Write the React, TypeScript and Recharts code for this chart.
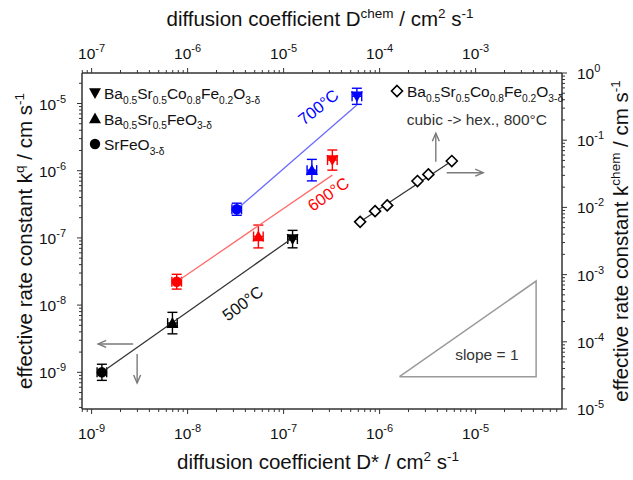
import React from 'react';
import {
  ComposedChart,
  Scatter,
  XAxis,
  YAxis,
  ErrorBar,
  ReferenceLine,
  ReferenceDot,
  Legend,
} from 'recharts';

const FONT = '"Liberation Sans", Arial, Helvetica, sans-serif';

// ---------- categories ----------
const materials = ['SrFeO3-δ', 'Ba0.5Sr0.5FeO3-δ', 'Ba0.5Sr0.5Co0.8Fe0.2O3-δ'];
const materialShapes = ['circle', 'triangle', 'triangleDown'];
const temperatures = ['500°C', '600°C', '700°C'];
const tempColors = ['#000000', '#ff0000', '#0000ff'];
const fitColors = ['#333333', '#ff6b6b', '#6b6bff'];

// ---------- series values (D* in cm2/s, kq in cm/s) ----------
const dStar500 = [1.28e-9, 6.95e-9, 1.24e-7];
const kq500 = [1.0e-9, 5.4e-9, 9.6e-8];
const kqErr500 = [0.12, 0.16, 0.13];

const dStar600 = [7.7e-9, 5.46e-8, 3.22e-7];
const kq600 = [2.23e-8, 1.05e-7, 1.44e-6];
const kqErr600 = [0.11, 0.17, 0.15];

const dStar700 = [3.25e-8, 1.97e-7, 5.8e-7];
const kq700 = [2.67e-7, 1.02e-6, 1.28e-5];
const kqErr700 = [0.09, 0.16, 0.12];

const dStarErr = [0.05, 0.05, 0.05];

// fit lines
const fit500D = [1.28e-9, 1.24e-7];
const fit500K = [1.0e-9, 1.0e-7];
const fit600D = [7.7e-9, 3.22e-7];
const fit600K = [2.23e-8, 8.6e-7];
const fit700D = [3.25e-8, 5.8e-7];
const fit700K = [2.67e-7, 9.5e-6];

// chemical diffusion (top / right axes), BSCF cubic -> hex., 800°C
const dChem800 = [6.27e-5, 8.97e-5, 1.2e-4, 2.48e-4, 3.22e-4, 5.65e-4];
const kChem800 = [6.1e-3, 8.8e-3, 1.07e-2, 2.47e-2, 3.1e-2, 4.9e-2];
const fit800D = [6.27e-5, 5.65e-4];
const fit800K = [6.1e-3, 4.9e-2];

// slope triangle (bottom / left axes)
const slopeD = [1.61e-6, 4.27e-5, 4.27e-5, 1.61e-6];
const slopeK = [8.6e-10, 8.6e-10, 2.28e-8, 8.6e-10];

// arrows
const arrowsBL = [
  { from: [2.71e-9, 2.64e-9], to: [1.17e-9, 2.64e-9] },
  { from: [2.98e-9, 1.87e-9], to: [2.98e-9, 6.93e-10] },
];
const arrowsTR = [
  { from: [3.85e-4, 4.79e-2], to: [3.85e-4, 0.127] },
  { from: [5.0e-4, 3.28e-2], to: [1.2e-3, 3.28e-2] },
];

// annotations
const annotationTexts = ['700°C', '600°C', '500°C', 'cubic -> hex., 800°C', 'slope = 1'];
const annotationD = [2.29e-7, 2.91e-7, 3.74e-8, 1.03e-5, 1.31e-5];
const annotationK = [8.9e-6, 4.5e-7, 1.07e-8, 5.7e-6, 1.81e-9];
const annotationColors = ['#0000ff', '#ff0000', '#111111', '#333333', '#333333'];
const annotationAngles = [-38, -35, -37, 0, 0];

// axes
const bottomDomain = [10 ** -9.1, 10 ** -4.1];
const topDomain = [10 ** -7.1, 10 ** -2.1];
const leftDomain = [10 ** -9.546, 10 ** -4.546];
const rightDomain = [1e-5, 1];
const bottomMajorExps = [-9, -8, -7, -6, -5];
const topMajorExps = [-7, -6, -5, -4, -3];
const leftMajorExps = [-9, -8, -7, -6, -5];
const rightMajorExps = [-5, -4, -3, -2, -1, 0];

// ---------- helpers ----------
function logTicks(domain: number[]) {
  const out: number[] = [];
  const lo = Math.floor(Math.log10(domain[0]));
  const hi = Math.ceil(Math.log10(domain[1]));
  for (let e = lo; e <= hi; e++) {
    for (let m = 1; m <= 9; m++) {
      const v = m * 10 ** e;
      if (v >= domain[0] * 0.9999 && v <= domain[1] * 1.0001) out.push(v);
    }
  }
  return out;
}

function buildSeries(d: number[], k: number[], kErr: number[]) {
  return d.map((x, i) => ({
    x,
    y: k[i],
    shape: materialShapes[i],
    material: materials[i],
    ex: [x - x / 10 ** dStarErr[i], x * 10 ** dStarErr[i] - x],
    ey: [k[i] - k[i] / 10 ** kErr[i], k[i] * 10 ** kErr[i] - k[i]],
  }));
}

function pairs(d: number[], k: number[]) {
  return d.map((x, i) => ({ x, y: k[i] }));
}

const series = [
  buildSeries(dStar500, kq500, kqErr500),
  buildSeries(dStar600, kq600, kqErr600),
  buildSeries(dStar700, kq700, kqErr700),
];
const fits = [pairs(fit500D, fit500K), pairs(fit600D, fit600K), pairs(fit700D, fit700K)];
const chemData = pairs(dChem800, kChem800).map((p) => ({ ...p, shape: 'diamond' }));
const chemFit = pairs(fit800D, fit800K);
const slopeData = pairs(slopeD, slopeK);

function Marker({ cx, cy, kind, color }: any) {
  if (cx == null || cy == null) return <g />;
  if (kind === 'circle') return <circle cx={cx} cy={cy} r={5.2} fill={color} />;
  if (kind === 'triangle') {
    const s = 6;
    return (
      <polygon
        points={`${cx},${cy - s} ${cx - s},${cy + s * 0.8} ${cx + s},${cy + s * 0.8}`}
        fill={color}
      />
    );
  }
  if (kind === 'triangleDown') {
    const s = 6;
    return (
      <polygon
        points={`${cx},${cy + s} ${cx - s},${cy - s * 0.8} ${cx + s},${cy - s * 0.8}`}
        fill={color}
      />
    );
  }
  const s = 5.5;
  return (
    <polygon
      points={`${cx},${cy - s} ${cx + s},${cy} ${cx},${cy + s} ${cx - s},${cy}`}
      fill="#ffffff"
      stroke={color}
      strokeWidth={1.6}
    />
  );
}

function Formula({ text, x, y, size }: any) {
  const tokens = text.match(/([A-Z][a-z]?)|([0-9.\-δ]+)/g) || [];
  const subSize = size * 0.66;
  const nodes: any[] = [];
  let sub = false;
  tokens.forEach((t: string, i: number) => {
    const isSub = /^[0-9.\-δ]/.test(t);
    let dy = 0;
    if (isSub && !sub) dy = 4.5;
    if (!isSub && sub) dy = -4.5;
    sub = isSub;
    nodes.push(
      <tspan key={i} dy={dy} fontSize={isSub ? subSize : size}>
        {t}
      </tspan>
    );
  });
  return (
    <text x={x} y={y} fontFamily={FONT} fontSize={size} fill="#111">
      {nodes}
    </text>
  );
}

function LegendOverlay() {
  const rows = [2, 1, 0];
  const rowY = [93, 118.5, 144];
  return (
    <svg width={633} height={480} style={{ position: 'absolute', left: 0, top: 0 }}>
      {rows.map((m, i) => (
        <g key={m}>
          <Marker cx={95} cy={rowY[i]} kind={materialShapes[m]} color="#000" />
          <Formula text={materials[m]} x={104} y={rowY[i] + 6} size={15.5} />
        </g>
      ))}
      <Marker cx={397} cy={91} kind="diamond" color="#000" />
      <Formula text={materials[2]} x={407} y={97} size={15.5} />
    </svg>
  );
}

function makeTick(side: string, majors: number[]) {
  return (props: any) => {
    const { x, y, payload } = props;
    const v = payload.value;
    const lg = Math.log10(v);
    const e = Math.round(lg);
    const isMajor = Math.abs(lg - e) < 1e-6;
    const len = isMajor ? 5 : 3;
    const showLabel = isMajor && majors.includes(e);
    const stroke = '#333';
    let line;
    let label = null;
    const lbl = (lx: number, ly: number, anchor: string) => (
      <text x={lx} y={ly} textAnchor={anchor} fontFamily={FONT} fontSize={15.5} fill="#111">
        <tspan>10</tspan>
        <tspan fontSize={11} dy={-7}>
          {String(e)}
        </tspan>
      </text>
    );
    if (side === 'bottom') {
      line = <line x1={x} y1={y} x2={x} y2={y + len} stroke={stroke} strokeWidth={1} />;
      if (showLabel) label = lbl(x, y + 30, 'middle');
    } else if (side === 'top') {
      line = <line x1={x} y1={y} x2={x} y2={y - len} stroke={stroke} strokeWidth={1} />;
      if (showLabel) label = lbl(x, y - 14, 'middle');
    } else if (side === 'left') {
      line = <line x1={x} y1={y} x2={x - len} y2={y} stroke={stroke} strokeWidth={1} />;
      if (showLabel) label = lbl(x - 16, y + 6, 'end');
    } else {
      line = <line x1={x} y1={y} x2={x + len} y2={y} stroke={stroke} strokeWidth={1} />;
      if (showLabel) label = lbl(x + 15, y + 6, 'start');
    }
    return (
      <g>
        {line}
        {label}
      </g>
    );
  };
}

const TITLE_SIZE = 20.5;
const TITLE_SUP = 13.5;

function Title({ parts, x, y, rotate }: any) {
  return (
    <text
      x={x}
      y={y}
      textAnchor="middle"
      fontFamily={FONT}
      fontSize={TITLE_SIZE}
      fill="#111"
      transform={rotate ? `rotate(${rotate} ${x} ${y})` : undefined}
    >
      {parts.map((p: any, i: number) => {
        const prevSup = i > 0 && parts[i - 1][1];
        const dy = p[1] && !prevSup ? -8 : !p[1] && prevSup ? 8 : 0;
        return (
          <tspan key={i} dy={dy} fontSize={p[1] ? TITLE_SUP : TITLE_SIZE}>
            {p[0]}
          </tspan>
        );
      })}
    </text>
  );
}

const bottomTitle = [['diffusion coefficient D* / cm', false], ['2', true], [' s', false], ['-1', true]];
const topTitle = [['diffusion coefficient D', false], ['chem', true], [' / cm', false], ['2', true], [' s', false], ['-1', true]];
const leftTitle = [['effective rate constant k', false], ['q', true], [' / cm s', false], ['-1', true]];
const rightTitle = [['effective rate constant k', false], ['chem', true], [' / cm s', false], ['-1', true]];

function Arrow(p: any) {
  const { x1, y1, x2, y2 } = p;
  if ([x1, y1, x2, y2].some((v) => v == null || isNaN(v))) return <g />;
  const dx = x2 - x1;
  const dy = y2 - y1;
  const L = Math.sqrt(dx * dx + dy * dy) || 1;
  const ux = dx / L;
  const uy = dy / L;
  const hl = 8;
  const hw = 3.5;
  const bx = x2 - ux * hl;
  const by = y2 - uy * hl;
  const stroke = '#7a7a7a';
  return (
    <g>
      <line x1={x1} y1={y1} x2={x2} y2={y2} stroke={stroke} strokeWidth={1.4} />
      <polyline
        points={`${bx - uy * hw},${by + ux * hw} ${x2},${y2} ${bx + uy * hw},${by - ux * hw}`}
        fill="none"
        stroke={stroke}
        strokeWidth={1.4}
      />
    </g>
  );
}

const empty = () => <g />;

export default function App() {
  const axisLine = { stroke: '#333', strokeWidth: 1.5 };
  return (
    <div style={{ position: 'absolute', left: 0, top: 0, width: 633, height: 480, background: '#fff' }}>
      <ComposedChart width={633} height={480} margin={{ top: 0, right: 0, bottom: 0, left: 0 }}>
        <XAxis
          xAxisId="bottom"
          orientation="bottom"
          dataKey="x"
          type="number"
          scale="log"
          domain={bottomDomain}
          allowDataOverflow
          ticks={logTicks(bottomDomain)}
          interval={0}
          tickSize={0}
          tickMargin={0}
          tickLine={false}
          axisLine={axisLine}
          height={71}
          tick={makeTick('bottom', bottomMajorExps)}
          label={{
            content: (p: any) => {
              const vb = p.viewBox || { x: 82, y: 409, width: 480, height: 71 };
              return <Title parts={bottomTitle} x={vb.x + vb.width / 2 - 4} y={vb.y + 60} />;
            },
          }}
        />
        <XAxis
          xAxisId="top"
          orientation="top"
          dataKey="x"
          type="number"
          scale="log"
          domain={topDomain}
          allowDataOverflow
          ticks={logTicks(topDomain)}
          interval={0}
          tickSize={0}
          tickMargin={0}
          tickLine={false}
          axisLine={axisLine}
          height={73}
          tick={makeTick('top', topMajorExps)}
          label={{
            content: (p: any) => {
              const vb = p.viewBox || { x: 82, y: 0, width: 480, height: 73 };
              return <Title parts={topTitle} x={vb.x + vb.width / 2 - 2} y={vb.y + 26} />;
            },
          }}
        />
        <YAxis
          yAxisId="left"
          orientation="left"
          dataKey="y"
          type="number"
          scale="log"
          domain={leftDomain}
          allowDataOverflow
          ticks={logTicks(leftDomain)}
          interval={0}
          tickSize={0}
          tickMargin={0}
          tickLine={false}
          axisLine={axisLine}
          width={82}
          tick={makeTick('left', leftMajorExps)}
          label={{
            content: (p: any) => {
              const vb = p.viewBox || { x: 0, y: 73, width: 82, height: 336 };
              const cy = vb.y + vb.height / 2;
              return <Title parts={leftTitle} x={vb.x + 32} y={cy} rotate={-90} />;
            },
          }}
        />
        <YAxis
          yAxisId="right"
          orientation="right"
          dataKey="y"
          type="number"
          scale="log"
          domain={rightDomain}
          allowDataOverflow
          ticks={logTicks(rightDomain)}
          interval={0}
          tickSize={0}
          tickMargin={0}
          tickLine={false}
          axisLine={axisLine}
          width={71}
          tick={makeTick('right', rightMajorExps)}
          label={{
            content: (p: any) => {
              const vb = p.viewBox || { x: 562, y: 73, width: 71, height: 336 };
              const cy = vb.y + vb.height / 2;
              return <Title parts={rightTitle} x={vb.x + 66} y={cy} rotate={-90} />;
            },
          }}
        />

        {/* slope triangle */}
        <Scatter
          xAxisId="bottom"
          yAxisId="left"
          data={slopeData}
          line={{ stroke: '#9a9a9a', strokeWidth: 1.5 }}
          shape={empty}
          isAnimationActive={false}
        />

        {/* fit lines */}
        {fits.map((f, i) => (
          <Scatter
            key={'fit' + i}
            xAxisId="bottom"
            yAxisId="left"
            data={f}
            line={{ stroke: fitColors[i], strokeWidth: 1.3 }}
            shape={empty}
            isAnimationActive={false}
          />
        ))}
        <Scatter
          xAxisId="top"
          yAxisId="right"
          data={chemFit}
          line={{ stroke: '#333', strokeWidth: 1.3 }}
          shape={empty}
          isAnimationActive={false}
        />

        {/* data points */}
        {series.map((s, i) => (
          <Scatter
            key={temperatures[i]}
            name={temperatures[i]}
            xAxisId="bottom"
            yAxisId="left"
            data={s}
            fill={tempColors[i]}
            isAnimationActive={false}
            shape={(p: any) => <Marker cx={p.cx} cy={p.cy} kind={p.payload?.shape} color={tempColors[i]} />}
          >
            <ErrorBar dataKey="ey" direction="y" width={5} stroke={tempColors[i]} strokeWidth={1.4} isAnimationActive={false} />
            <ErrorBar dataKey="ex" direction="x" width={5} stroke={tempColors[i]} strokeWidth={1.4} isAnimationActive={false} />
          </Scatter>
        ))}
        <Scatter
          xAxisId="top"
          yAxisId="right"
          data={chemData}
          isAnimationActive={false}
          shape={(p: any) => <Marker cx={p.cx} cy={p.cy} kind="diamond" color="#000" />}
        />

        {/* arrows */}
        {arrowsBL.map((a, i) => (
          <ReferenceLine
            key={'abl' + i}
            xAxisId="bottom"
            yAxisId="left"
            segment={[
              { x: a.from[0], y: a.from[1] },
              { x: a.to[0], y: a.to[1] },
            ]}
            shape={(p: any) => <Arrow {...p} />}
          />
        ))}
        {arrowsTR.map((a, i) => (
          <ReferenceLine
            key={'atr' + i}
            xAxisId="top"
            yAxisId="right"
            segment={[
              { x: a.from[0], y: a.from[1] },
              { x: a.to[0], y: a.to[1] },
            ]}
            shape={(p: any) => <Arrow {...p} />}
          />
        ))}

        {/* annotations */}
        {annotationTexts.map((t, i) => (
          <ReferenceDot
            key={'ann' + i}
            xAxisId="bottom"
            yAxisId="left"
            x={annotationD[i]}
            y={annotationK[i]}
            r={0}
            shape={(p: any) => (
              <text
                x={p.cx}
                y={p.cy}
                textAnchor="middle"
                dominantBaseline="central"
                fontFamily={FONT}
                fontSize={i < 3 ? 16.5 : 15.5}
                fill={annotationColors[i]}
                transform={annotationAngles[i] ? `rotate(${annotationAngles[i]} ${p.cx} ${p.cy})` : undefined}
              >
                {t}
              </text>
            )}
          />
        ))}

        <Legend
          layout="vertical"
          align="center"
          verticalAlign="middle"
          wrapperStyle={{ left: 0, top: 0, width: 633, height: 480, pointerEvents: 'none' }}
          content={() => <LegendOverlay />}
        />
      </ComposedChart>
    </div>
  );
}
